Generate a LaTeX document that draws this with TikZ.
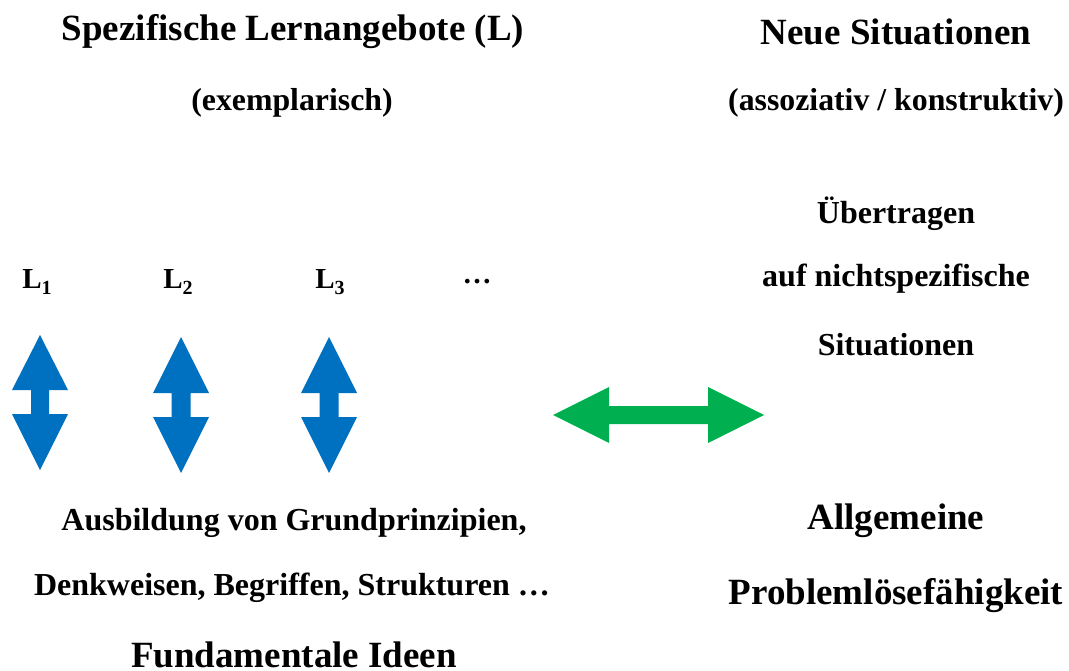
\documentclass[tikz,border=0pt]{standalone}
\usepackage{fontspec}
\setmainfont{Liberation Serif}
\definecolor{arrblue}{HTML}{0070C0}
\definecolor{arrgreen}{HTML}{00B050}
\newcommand{\Lsub}[1]{L\raisebox{-0.18em}{\fontsize{20}{20}\selectfont #1}}
\begin{document}
\begin{tikzpicture}[x=1pt,y=-1pt,
  big/.style={inner sep=0pt,font=\bfseries\fontsize{37}{44}\selectfont},
  mid/.style={inner sep=0pt,font=\bfseries\fontsize{32}{38}\selectfont},
  small/.style={inner sep=0pt,font=\bfseries\fontsize{31.8}{38}\selectfont},
  lab/.style={inner sep=0pt,font=\bfseries\fontsize{29}{34}\selectfont},
  vblue/.style={fill=arrblue,draw=none},
  hgreen/.style={fill=arrgreen,draw=none}]
\useasboundingbox (0,0) rectangle (1069,671);
% left column
\node[big] (spez) at (293,32) {Spezifische Lernangebote (L)};
\node[small] (exem) at (292,103) {(exemplarisch)};
\node[lab] (l1) at (37,282) {\Lsub{1}};
\node[lab] (l2) at (178,282) {\Lsub{2}};
\node[lab] (l3) at (330,282) {\Lsub{3}};
\node[lab] (dots) at (477,282) {…};
\node[mid] (ausb) at (294,523) {Ausbildung von Grundprinzipien,};
\node[mid] (denk) at (292,588) {Denkweisen, Begriffen, Strukturen …};
\node[big,anchor=base] (fund) at (294,667) {Fundamentale Ideen};
% right column
\node[big] (neue) at (896,32) {Neue Situationen};
\node[small] (asso) at (896,103) {(assoziativ / konstruktiv)};
\node[mid] (uebe) at (896,214) {Übertragen};
\node[mid] (aufn) at (896,279) {auf nichtspezifische};
\node[mid] (situ) at (896,345) {Situationen};
\node[big] (allg) at (896,521) {Allgemeine};
\node[big] (prob) at (896,596) {Problemlösefähigkeit};
% blue double arrows
\fill[vblue] (40,335) -- (68,390) -- (49,390) -- (49,414) -- (68,414) -- (40,470)
  -- (12,414) -- (31,414) -- (31,390) -- (12,390) -- cycle;
\fill[vblue] (181,337) -- (209,393) -- (190.5,393) -- (190.5,417) -- (209,417) -- (181,473)
  -- (153,417) -- (171.5,417) -- (171.5,393) -- (153,393) -- cycle;
\fill[vblue] (329,337) -- (357,393) -- (338.5,393) -- (338.5,417) -- (357,417) -- (329,473)
  -- (301,417) -- (319.5,417) -- (319.5,393) -- (301,393) -- cycle;
% green double arrow
\fill[hgreen] (553,415) -- (609,387) -- (609,406) -- (708,406) -- (708,387) -- (764,415)
  -- (708,443) -- (708,424) -- (609,424) -- (609,443) -- cycle;
\end{tikzpicture}
\end{document}
